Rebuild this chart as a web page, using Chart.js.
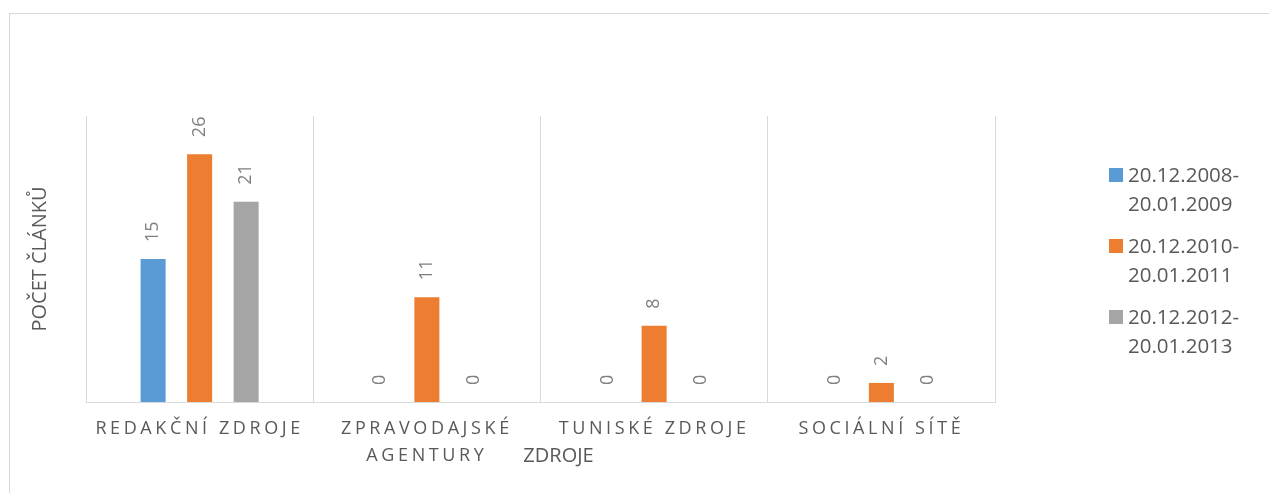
<!DOCTYPE html>
<html>
<head>
<meta charset="utf-8">
<script src="https://cdn.jsdelivr.net/npm/chart.js@4/dist/chart.umd.min.js"></script>
<style>
  html, body { margin: 0; padding: 0; background: #fff; }
  #wrap { position: relative; width: 1269px; height: 493px; overflow: hidden; }
  #frame { position: absolute; left: 9px; top: 13px; width: 1400px; height: 600px;
           border-top: 1px solid #D9D9D9; border-left: 1px solid #D9D9D9; }
  canvas { position: absolute; left: 0; top: 0; }
  #legend { position: absolute; left: 1109px; top: 160px; font-family: "Open Sans", sans-serif;
            font-size: 20.5px; color: #595959; }
  .item { position: relative; padding-left: 19px; line-height: 29px; white-space: pre-line; margin-bottom: 13px; }
  .sw { position: absolute; left: 0; top: 8px; width: 14px; height: 14px; }
</style>
</head>
<body>
<div id="wrap">
  <div id="frame"></div>
  <canvas id="c" width="1269" height="493"></canvas>
  <div id="legend"></div>
</div>
<script>
const categories = [["REDAKČNÍ ZDROJE"], ["ZPRAVODAJSKÉ", "AGENTURY"], ["TUNISKÉ ZDROJE"], ["SOCIÁLNÍ SÍTĚ"]];
const seriesNames = ["20.12.2008-20.01.2009", "20.12.2010-20.01.2011", "20.12.2012-20.01.2013"];
const series2008 = [15, 0, 0, 0];
const series2010 = [26, 11, 8, 2];
const series2012 = [21, 0, 0, 0];
const seriesColors = ["#5B9BD5", "#ED7D31", "#A5A5A5"];
const yAxisTitle = "POČET ČLÁNKŮ";
const xAxisTitle = "ZDROJE";

const seriesValues = [series2008, series2010, series2012];

const axisStylePlugin = {
  id: 'axisStyle',
  beforeDraw(chart) {
    const sc = chart.scales.x;
    if (sc && !sc._lsPatched) {
      const origLabels = sc.drawLabels;
      sc.drawLabels = function (area) {
        const c = this.ctx;
        c.save();
        c.letterSpacing = '3.6px';
        origLabels.call(this, area);
        c.restore();
      };
      const origTitle = sc.drawTitle;
      sc.drawTitle = function () {
        const c = this.ctx;
        c.save();
        c.translate(18, 0);
        origTitle.call(this);
        c.restore();
      };
      sc._lsPatched = true;
    }
  }
};

const dataLabelPlugin = {
  id: 'dataLabels',
  afterDatasetsDraw(chart) {
    const ctx = chart.ctx;
    ctx.save();
    ctx.font = '18px "Open Sans", sans-serif';
    ctx.fillStyle = '#7F7F7F';
    ctx.textAlign = 'left';
    ctx.textBaseline = 'middle';
    chart.data.datasets.forEach((ds, i) => {
      const meta = chart.getDatasetMeta(i);
      meta.data.forEach((bar, j) => {
        ctx.save();
        ctx.translate(bar.x, bar.y - 17);
        ctx.rotate(-Math.PI / 2);
        ctx.fillText(String(ds.data[j]), 0, 0);
        ctx.restore();
      });
    });
    ctx.restore();
  }
};

const chart = new Chart(document.getElementById('c'), {
  type: 'bar',
  data: {
    labels: categories,
    datasets: seriesValues.map((vals, i) => ({
      label: seriesNames[i],
      data: vals,
      backgroundColor: seriesColors[i],
      borderWidth: 0,
      categoryPercentage: 0.614,
      barPercentage: 0.538
    }))
  },
  options: {
    responsive: false,
    animation: false,
    devicePixelRatio: 1,
    layout: { padding: { left: 10, right: 274, top: 116, bottom: 20 } },
    plugins: { legend: { display: false }, tooltip: { enabled: false } },
    scales: {
      x: {
        grid: { display: true, color: '#D9D9D9', drawTicks: false, offset: true },
        border: { display: true, color: '#D9D9D9' },
        ticks: {
          color: '#595959', padding: 14, maxRotation: 0, autoSkip: false,
          font: { family: '"Open Sans", sans-serif', size: 18, lineHeight: '26.5px' }
        },
        title: {
          display: true, text: xAxisTitle, color: '#595959',
          font: { family: '"Open Sans", sans-serif', size: 20, lineHeight: 1.2 },
          padding: { top: -39, bottom: 5 }
        }
      },
      y: {
        min: 0, max: 30,
        grid: { display: false, drawTicks: false },
        border: { display: false },
        ticks: { display: false },
        title: {
          display: true, text: yAxisTitle, color: '#595959',
          font: { family: '"Open Sans", sans-serif', size: 20, lineHeight: 1.2 },
          padding: { top: 18, bottom: 34 }
        }
      }
    }
  },
  plugins: [axisStylePlugin, dataLabelPlugin]
});

const legend = document.getElementById('legend');
seriesNames.forEach((name, i) => {
  const item = document.createElement('div');
  item.className = 'item';
  const sw = document.createElement('span');
  sw.className = 'sw';
  sw.style.background = seriesColors[i];
  item.appendChild(sw);
  item.appendChild(document.createTextNode(name.replace('-', '-\n')));
  legend.appendChild(item);
});
</script>
</body>
</html>
